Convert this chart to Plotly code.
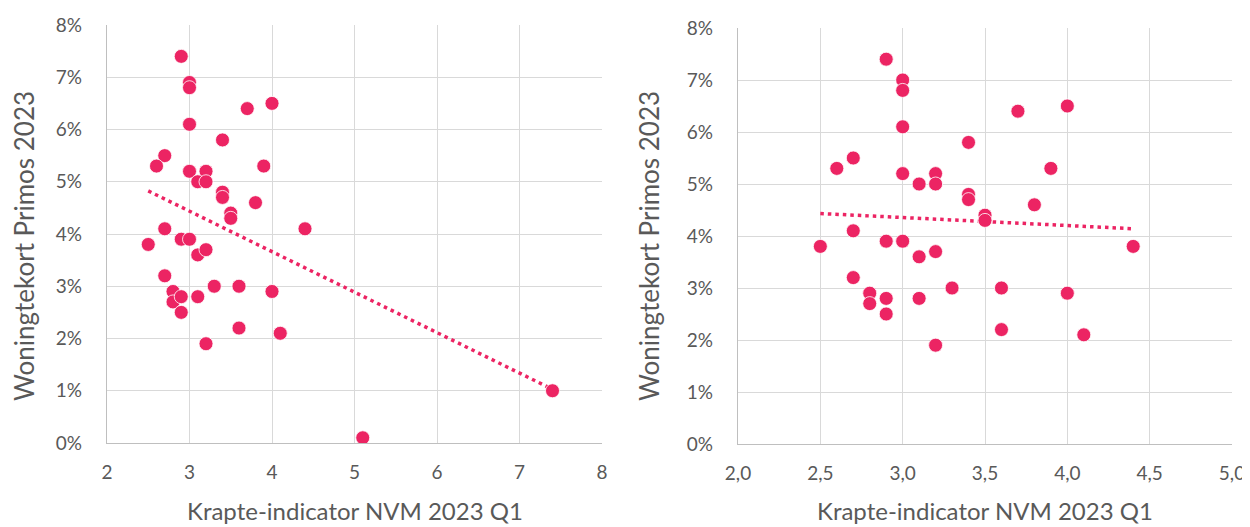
import numpy as np
import plotly.graph_objects as go

# ---- data ----
left_x = [2.9, 3.0, 3.0, 3.7, 4.0, 3.0, 3.4, 2.7, 2.6, 3.0, 3.2, 3.1, 3.2, 3.9,
          3.4, 3.4, 3.8, 3.5, 3.5, 4.4, 2.7, 2.5, 2.9, 3.0, 3.1, 3.2, 2.7, 3.3,
          3.6, 4.0, 2.8, 2.8, 2.9, 2.9, 3.1, 3.6, 4.1, 3.2, 5.1, 7.4]
left_y = [7.4, 6.9, 6.8, 6.4, 6.5, 6.1, 5.8, 5.5, 5.3, 5.2, 5.2, 5.0, 5.0, 5.3,
          4.8, 4.7, 4.6, 4.4, 4.3, 4.1, 4.1, 3.8, 3.9, 3.9, 3.6, 3.7, 3.2, 3.0,
          3.0, 2.9, 2.9, 2.7, 2.8, 2.5, 2.8, 2.2, 2.1, 1.9, 0.1, 1.0]

right_x = [2.9, 3.0, 3.0, 3.7, 4.0, 3.0, 3.4, 2.7, 2.6, 3.9, 3.0, 3.2, 3.2, 3.1,
           3.4, 3.4, 3.8, 3.5, 3.5, 2.7, 2.5, 2.9, 3.0, 4.4, 3.1, 3.2, 2.7, 3.3,
           3.6, 4.0, 2.8, 2.8, 2.9, 2.9, 3.1, 3.6, 4.1, 3.2]
right_y = [7.4, 7.0, 6.8, 6.4, 6.5, 6.1, 5.8, 5.5, 5.3, 5.3, 5.2, 5.2, 5.0, 5.0,
           4.8, 4.7, 4.6, 4.4, 4.3, 4.1, 3.8, 3.9, 3.9, 3.8, 3.6, 3.7, 3.2, 3.0,
           3.0, 2.9, 2.9, 2.7, 2.8, 2.5, 2.8, 2.2, 2.1, 1.9]

left_xticks = [2, 3, 4, 5, 6, 7, 8]
right_xticks = [2.0, 2.5, 3.0, 3.5, 4.0, 4.5, 5.0]
y_ticks_pct = [0, 1, 2, 3, 4, 5, 6, 7, 8]

x_title = "Krapte-indicator NVM 2023 Q1"
y_title = "Woningtekort Primos 2023"

# ---- styling ----
PINK = "#EC2463"
GRID = "#d9d9d9"
AXIS = "#bfbfbf"
TXT = "#595959"
FONT = "Lato"

# the page body adds an 8px offset; figure sized so it ends at the window edge
OFF = 8
W, H = 1250 - OFF, 527 - OFF


def px(x):
    return (x - OFF) / W


def py(y):
    return 1 - (y - OFF) / H


left_yv = [v / 100 for v in left_y]
right_yv = [v / 100 for v in right_y]
y_ticks = [v / 100 for v in y_ticks_pct]


def trend(xs, ys):
    c = np.polyfit(xs, ys, 1)
    tx = [min(xs), max(xs)]
    return tx, list(np.polyval(c, tx))


fig = go.Figure()

for xs, ys, xa, ya in [(left_x, left_yv, "x", "y"), (right_x, right_yv, "x2", "y2")]:
    tx, ty = trend(xs, ys)
    fig.add_trace(go.Scatter(
        x=tx, y=ty, mode="lines", xaxis=xa, yaxis=ya, showlegend=False,
        line=dict(color=PINK, width=3.5, dash="3.5px,4px"), hoverinfo="skip"))
    fig.add_trace(go.Scatter(
        x=xs, y=ys, mode="markers", xaxis=xa, yaxis=ya, showlegend=False,
        marker=dict(color=PINK, size=14, line=dict(color="white", width=0.8))))

common_x = dict(showgrid=True, gridcolor=GRID, gridwidth=1.3, showline=True,
                linecolor=AXIS, linewidth=1.3, zeroline=False, ticks="",
                automargin=False,
                tickfont=dict(family=FONT, size=19, color=TXT),
                ticklabelstandoff=12)
common_y = dict(showgrid=True, gridcolor=GRID, gridwidth=1.3, showline=True,
                linecolor=AXIS, linewidth=1.3, zeroline=False, ticks="",
                automargin=False,
                tickfont=dict(family=FONT, size=19, color=TXT),
                tickvals=y_ticks, tickformat=".0%", range=[0, 0.08],
                ticklabelstandoff=20)

fig.update_layout(
    width=W, height=H,
    margin=dict(l=0, r=0, t=0, b=0, autoexpand=False),
    paper_bgcolor="white", plot_bgcolor="white",
    separators=",.",
    font=dict(family=FONT, color=TXT),
    xaxis=dict(domain=[px(107), px(602)], range=[2, 8], tickvals=left_xticks,
               anchor="y", **common_x),
    yaxis=dict(domain=[py(443), py(25)], anchor="x", **common_y),
    xaxis2=dict(domain=[px(738), px(1232)], range=[2, 5], tickvals=right_xticks,
                tickformat=".1f", anchor="y2", **common_x),
    yaxis2=dict(domain=[py(444), py(28)], anchor="x2", **common_y),
)

for xc, yc, txt, ang, fs in [
    (px((107 + 602) / 2), py(510), x_title, 0, 24),
    (px((738 + 1232) / 2), py(510), x_title, 0, 24),
    (px(24), py(246), y_title, -90, 26),
    (px(649), py(246), y_title, -90, 26),
]:
    fig.add_annotation(x=xc, y=yc, xref="paper", yref="paper", text=txt,
                       showarrow=False, textangle=ang, xanchor="center",
                       yanchor="middle",
                       font=dict(family=FONT, size=fs, color=TXT))

fig.write_html("out.html")
